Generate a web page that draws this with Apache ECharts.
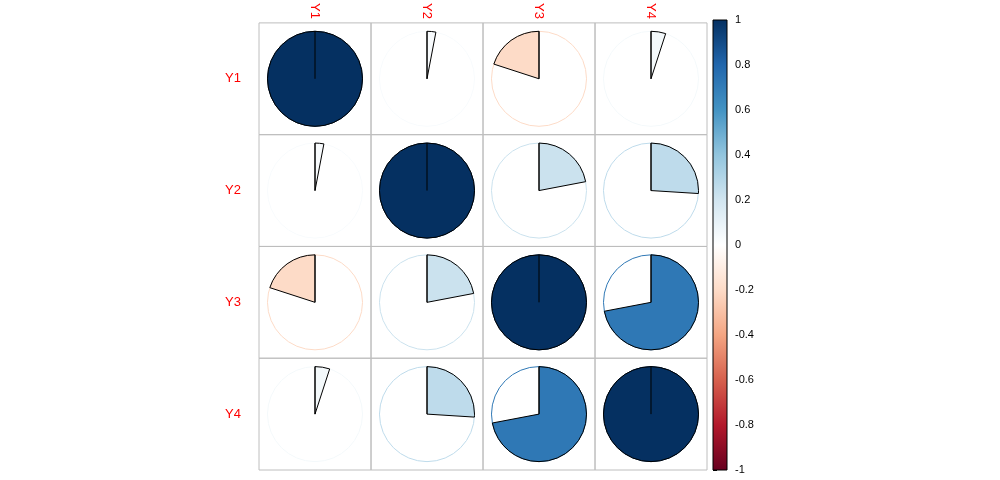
<!DOCTYPE html><html><head><meta charset="utf-8"><script src="https://cdn.jsdelivr.net/npm/echarts@6/dist/echarts.min.js"></script></head><body style="margin:0"><div id="c" style="width:1000px;height:480px"></div><script>
const vars=['Y1','Y2','Y3','Y4'];
const corr=[[1,0.03,-0.2,0.05],[0.03,1,0.22,0.26],[-0.2,0.22,1,0.72],[0.05,0.26,0.72,1]];
const ticks=[-1,-0.8,-0.6,-0.4,-0.2,0,0.2,0.4,0.6,0.8,1];
const pal=["#67001F","#B2182B","#D6604D","#F4A582","#FDDBC7","#FFFFFF","#D1E5F0","#92C5DE","#4393C3","#2166AC","#053061"];
function col(v){const t=(v+1)/2*(pal.length-1);const i=Math.min(Math.floor(t),pal.length-2),f=t-i;
 const a=pal[i],b=pal[i+1];const h=(s,k)=>parseInt(s.substr(1+2*k,2),16);
 return 'rgb('+[0,1,2].map(k=>Math.round(h(a,k)+(h(b,k)-h(a,k))*f)).join(',')+')';}
const data=[];corr.forEach((r,i)=>r.forEach((v,j)=>data.push([j,i,v])));
const ch=echarts.init(document.getElementById('c'));
ch.setOption({animation:false,
grid:[{left:259,width:448,top:20,height:450},{left:713,width:14,top:20,height:450}],
xAxis:[{type:'category',data:vars,position:'top',gridIndex:0,axisLine:{show:false},axisTick:{show:false},axisLabel:{rotate:90,color:'#FF0000',fontSize:13,margin:4}},
 {type:'value',gridIndex:1,show:false,min:0,max:1}],
yAxis:[{type:'category',data:vars,inverse:true,gridIndex:0,axisLine:{show:false},axisTick:{show:false},axisLabel:{color:'#FF0000',fontSize:13,margin:18}},
 {type:'value',gridIndex:1,min:-1,max:1,interval:0.2,position:'right',splitLine:{show:false},axisLine:{show:false},axisTick:{show:true,length:4,lineStyle:{color:'#000'}},axisLabel:{fontSize:11,color:'#000',margin:8,formatter:v=>Math.round(v*10)/10}}],
series:[{type:'custom',xAxisIndex:0,yAxisIndex:0,data:data,renderItem:(p,api)=>{
 const i=api.value(0),j=api.value(1),v=api.value(2);const c=api.coord([i,j]);const s=api.size([1,1]);
 const r=Math.min(s[0],s[1])/2*0.85;const k=col(v);const top=-Math.PI/2;
 const st=v>=0?top:top+2*Math.PI*v, en=v>=0?top+2*Math.PI*v:top;
 return {type:'group',children:[
  {type:'rect',shape:{x:c[0]-s[0]/2,y:c[1]-s[1]/2,width:s[0],height:s[1]},style:{fill:'none',stroke:'#BEBEBE',lineWidth:1}},
  {type:'circle',shape:{cx:c[0],cy:c[1],r:r},style:{fill:'none',stroke:k,lineWidth:1}},
  {type:'sector',shape:{cx:c[0],cy:c[1],r0:0,r:r,startAngle:st,endAngle:en,clockwise:true},style:{fill:k,stroke:'#000',lineWidth:1}},
  {type:'line',shape:{x1:c[0],y1:c[1],x2:c[0],y2:c[1]-r},style:{stroke:'#000',lineWidth:1}}]};}},
 {type:'custom',xAxisIndex:1,yAxisIndex:1,data:[0],renderItem:(p,api)=>{
  const a=api.coord([0,1]),b=api.coord([1,-1]);
  const stops=pal.map((c,i)=>({offset:i/(pal.length-1),color:c})).reverse().map((o,i)=>({offset:i/(pal.length-1),color:o.color}));
  return {type:'rect',shape:{x:a[0],y:a[1],width:b[0]-a[0],height:b[1]-a[1]},style:{fill:new echarts.graphic.LinearGradient(0,0,0,1,stops),stroke:'#000',lineWidth:1}};}}]});
</script></body></html>
